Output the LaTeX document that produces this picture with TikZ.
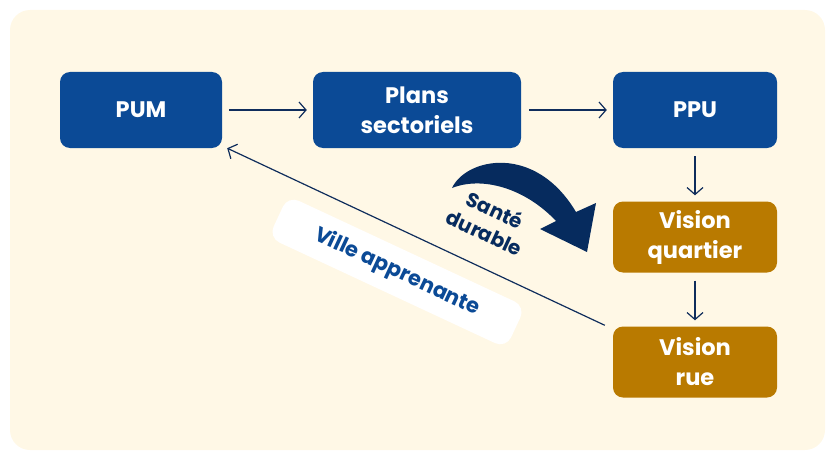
\documentclass[tikz,border=0pt]{standalone}
\usepackage{fontspec}
\setmainfont{Poppins}
\usetikzlibrary{arrows.meta,calc}
\definecolor{bgc}{HTML}{FFF8E6}
\definecolor{bluebox}{HTML}{0B4A96}
\definecolor{goldbox}{HTML}{B97A00}
\definecolor{navy}{HTML}{0F2D5C}
\definecolor{darknavy}{HTML}{062B5E}
\tikzset{
  boxbase/.style={rounded corners=10pt, text=white, font=\fontseries{sb}\fontsize{22.5}{30}\selectfont, align=center, inner sep=0pt, minimum height=76pt},
  bluestep/.style={boxbase, fill=bluebox},
  goldstep/.style={boxbase, fill=goldbox, minimum height=71pt, minimum width=164pt},
  conn/.style={draw=navy, line width=1.2pt, -{Straight Barb[length=7pt,width=16pt,line width=1.2pt]}},
}
\begin{document}
\begin{tikzpicture}[x=1pt,y=-1pt]
\useasboundingbox (0,0) rectangle (827,452);
\fill[bgc, rounded corners=20pt] (10,10) rectangle (825,450);
\node[bluestep, minimum width=162pt] (PUM) at (141,110) {PUM};
\node[bluestep, minimum width=208pt] (PS) at (417,110) {Plans\\sectoriels};
\node[bluestep, minimum width=164pt] (PPU) at (695,110) {PPU};
\node[goldstep] (VQ) at (695,237) {Vision\\quartier};
\node[goldstep] (VR) at (695,362) {Vision\\rue};
\draw[conn] ($(PUM.east)+(7,0)$) -- ($(PS.west)+(-6,0)$);
\draw[conn] ($(PS.east)+(8,0)$) -- ($(PPU.west)+(-6,0)$);
\draw[conn] ($(PPU.south)+(0,8)$) -- ($(VQ.north)+(0,-6)$);
\draw[conn] ($(VQ.south)+(0,8)$) -- ($(VR.north)+(0,-6)$);
% Ville apprenante label box
\node[fill=white, rounded corners=12pt, rotate=-25, minimum width=262pt, minimum height=46pt, inner sep=0pt] (VAbox) at (397,272) {};
\node[rotate=-25, text=bluebox, font=\fontseries{sb}\fontsize{21}{26}\selectfont] (VA) at (VAbox.center) {Ville apprenante};
\draw[conn] ($(VR.north west)+(-8,-1)$) -- ($(PUM.south east)+(5,0)$);
% Sante durable curved arrow
\fill[darknavy] (452,188) .. controls (466,158) and (535,143) .. (576,212)
  -- (596,203) -- (587,252) -- (540,229) -- (556,221)
  .. controls (525,188) and (482,176) .. (452,188) -- cycle;
\node[rotate=-25, text=darknavy, font=\fontseries{sb}\fontsize{20}{25}\selectfont, align=center] (SD) at (490,221) {Santé\\durable};
\end{tikzpicture}
\end{document}
